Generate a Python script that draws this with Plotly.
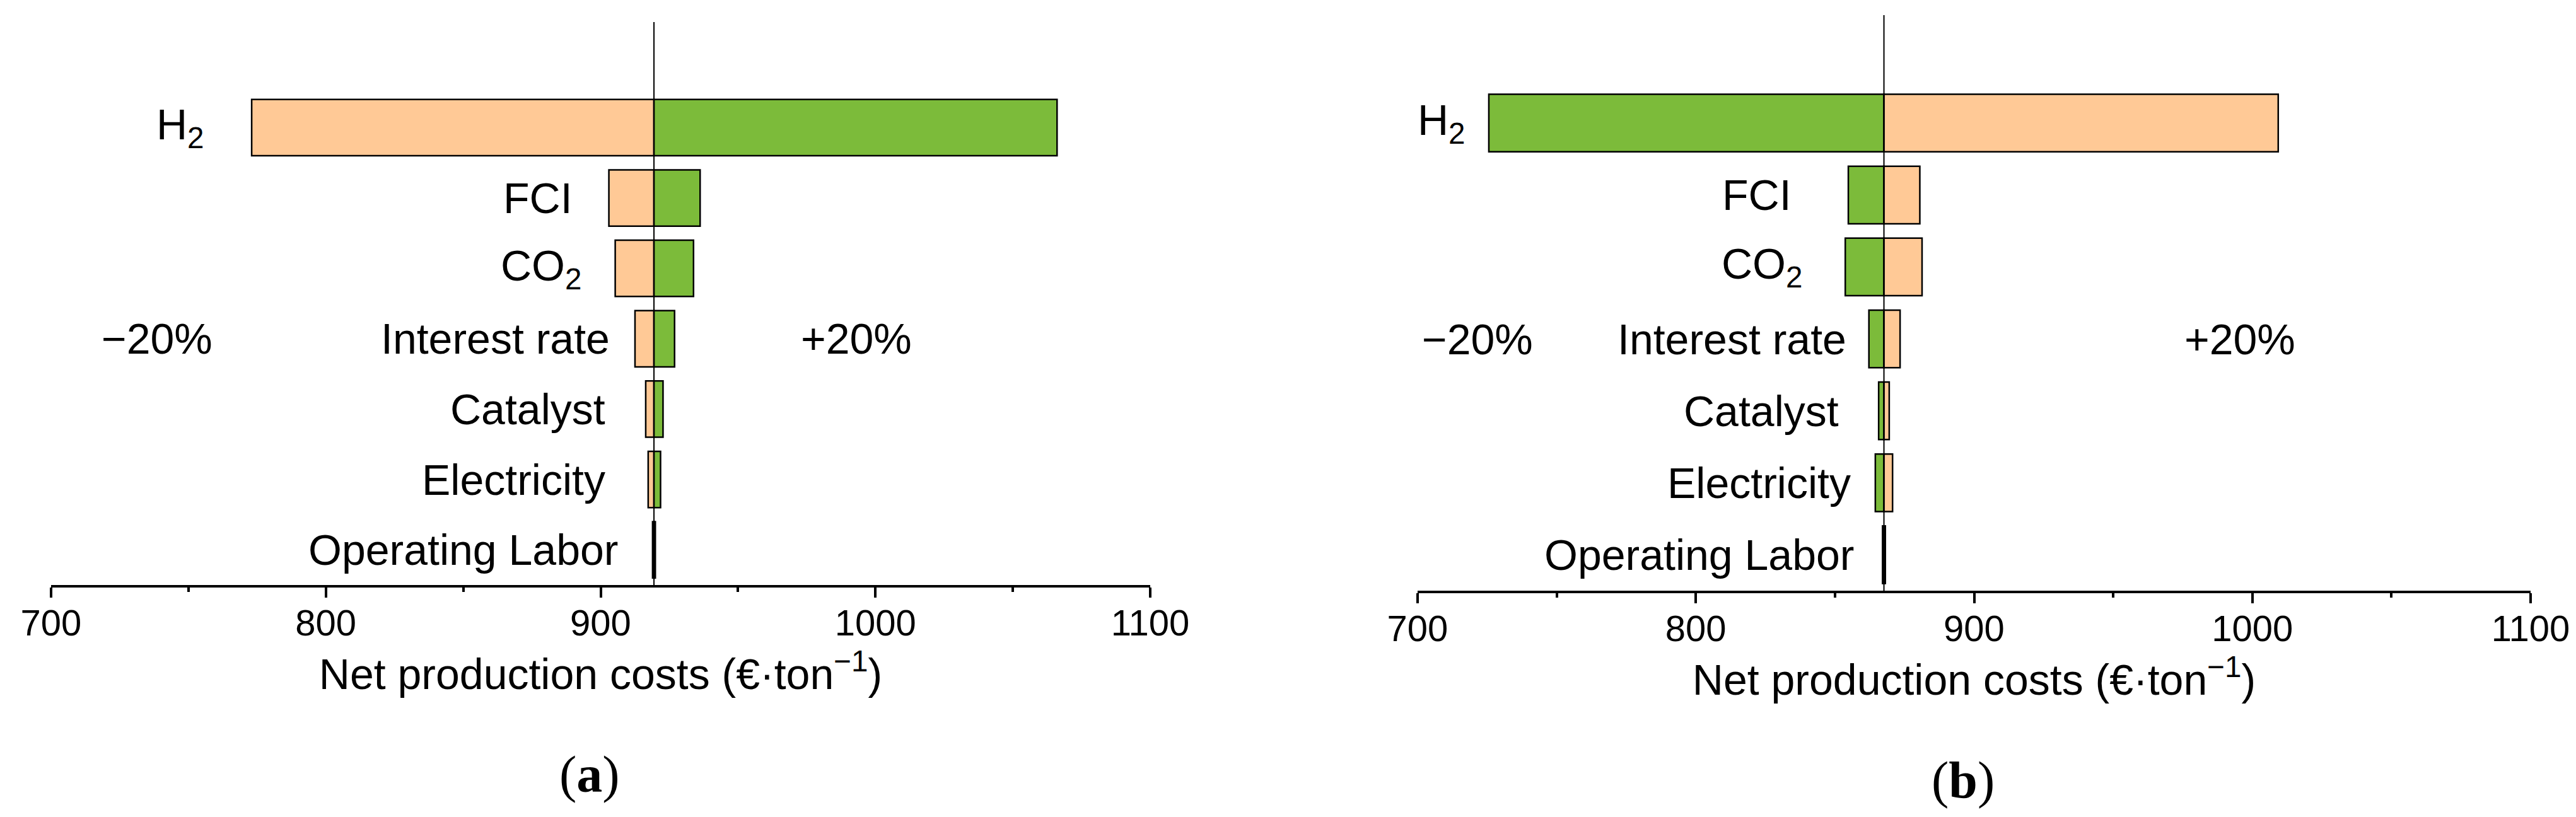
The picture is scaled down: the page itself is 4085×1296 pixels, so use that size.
import plotly.graph_objects as go

# ---------------- data ----------------
categories = ["Operating Labor", "Electricity", "Catalyst", "Interest rate",
              "CO<sub>2</sub>", "FCI", "H<sub>2</sub>"]          # bottom -> top

base_a = 919.4
low_a = [918.9, 917.3, 916.4, 912.5, 905.3, 903.0, 773.0]     # left ends (a)
high_a = [919.9, 921.8, 922.7, 926.9, 933.8, 936.2, 1066.1]   # right ends (a)

base_b = 867.6
low_b = [867.1, 864.5, 865.7, 862.2, 853.7, 854.8, 725.6]     # left ends (b)
high_b = [868.1, 870.7, 869.5, 873.4, 881.3, 880.5, 1009.3]   # right ends (b)

x_ticks = [700, 800, 900, 1000, 1100]
x_title = "Net production costs (€·ton<sup>−1</sup>)"
minus_label = "−20%"
plus_label = "+20%"
panel_labels = ["(<b>a</b>)", "(<b>b</b>)"]

# ---------------- style ----------------
W, H = 4085, 1296
ORANGE = "#FFC996"
GREEN = "#7CBB3A"
FONT = "Liberation Sans, Arial, sans-serif"
SERIF = "Liberation Serif, Times New Roman, serif"

panels = [
    dict(base=base_a, low=low_a, high=high_a, left_color=ORANGE, right_color=GREEN,
         xdom=(73, 1816), ytop=27, ybot=920, xa="x", ya="y",
         gaps=[53, 66, 62, 38, 52, 56, 73], pm_x=(738.5, 993.0)),
    dict(base=base_b, low=low_b, high=high_b, left_color=GREEN, right_color=ORANGE,
         xdom=(2240, 4005), ytop=16, ybot=929, xa="x2", ya="y2",
         gaps=[43, 37, 61, 34, 66, 88, 35], pm_x=(721.5, 995.6)),
]

fig = go.Figure()
annotations = []
shapes = []
ycat = list(range(len(categories)))

for i, p in enumerate(panels):
    b = p["base"]
    fig.add_trace(go.Bar(
        y=ycat, x=[v - b for v in p["low"]], base=b, orientation="h", width=0.8,
        marker=dict(color=p["left_color"], line=dict(color="black", width=2.5)),
        xaxis=p["xa"], yaxis=p["ya"], showlegend=False))
    fig.add_trace(go.Bar(
        y=ycat, x=[v - b for v in p["high"]], base=b, orientation="h", width=0.8,
        marker=dict(color=p["right_color"], line=dict(color="black", width=2.5)),
        xaxis=p["xa"], yaxis=p["ya"], showlegend=False))

    # vertical baseline
    shapes.append(dict(type="line", xref=p["xa"], yref=p["ya"], x0=b, x1=b,
                       y0=-0.5, y1=7.5, line=dict(color="black", width=2)))

    # category labels
    for k, cat in enumerate(categories):
        annotations.append(dict(
            text=cat, xref=p["xa"], yref=p["ya"], x=min(p["low"][k], p["high"][k]), y=k,
            xanchor="right", yanchor="middle", xshift=-p["gaps"][k], showarrow=False,
            font=dict(family=FONT, size=68, color="black")))

    # -20% / +20%
    annotations.append(dict(text=minus_label, xref=p["xa"], yref=p["ya"], x=p["pm_x"][0], y=3,
                            xanchor="center", yanchor="middle", showarrow=False,
                            font=dict(family=FONT, size=68, color="black")))
    annotations.append(dict(text=plus_label, xref=p["xa"], yref=p["ya"], x=p["pm_x"][1], y=3,
                            xanchor="center", yanchor="middle", showarrow=False,
                            font=dict(family=FONT, size=68, color="black")))

    # panel label
    annotations.append(dict(text=panel_labels[i], xref=p["xa"] + " domain", yref="paper",
                            x=0.49, y=1 - (p["ybot"] + 300) / H, xanchor="center",
                            yanchor="middle", showarrow=False,
                            font=dict(family=SERIF, size=82, color="black")))

    xd = p["xdom"]
    axis_x = dict(domain=[xd[0] / W, xd[1] / W], range=[700, 1100], tickvals=x_ticks,
                  showgrid=False, zeroline=False, showline=True, linecolor="black",
                  linewidth=4, ticks="outside", ticklen=16, tickwidth=4, tickcolor="black",
                  minor=dict(dtick=50, ticks="outside", ticklen=7, tickwidth=4,
                             tickcolor="black", showgrid=False),
                  tickfont=dict(family=FONT, size=58, color="black"),
                  ticklabelstandoff=-10,
                  title=dict(text=x_title, font=dict(family=FONT, size=68, color="black"),
                             standoff=28),
                  automargin=False, fixedrange=True,
                  anchor=p["ya"])
    axis_y = dict(domain=[1 - p["ybot"] / H, 1 - p["ytop"] / H], range=[-0.5, 7.5],
                  visible=False, showgrid=False, zeroline=False, fixedrange=True,
                  anchor=p["xa"])
    if i == 0:
        fig.update_layout(xaxis=axis_x, yaxis=axis_y)
    else:
        fig.update_layout(xaxis2=axis_x, yaxis2=axis_y)

fig.update_layout(
    width=W, height=H, margin=dict(l=0, r=0, t=0, b=0),
    paper_bgcolor="white", plot_bgcolor="white",
    barmode="overlay", bargap=0.2,
    annotations=annotations, shapes=shapes,
    font=dict(family=FONT, color="black"),
)

fig.write_html("out.html")
